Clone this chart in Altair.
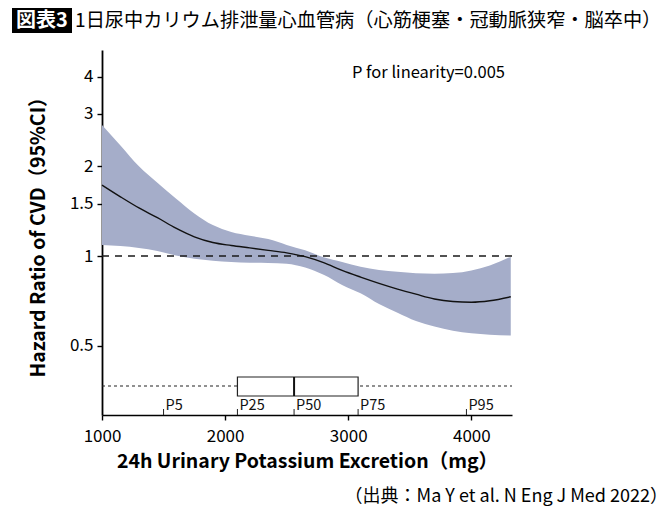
import altair as alt
import pandas as pd

# 24h urinary potassium (mg) and the spline hazard ratio with its 95% CI
potassium = [1000, 1150, 1300, 1450, 1600, 1750, 1900, 2050, 2200, 2350, 2500,
             2650, 2800, 2950, 3100, 3250, 3400, 3550, 3700, 3850, 4000, 4150, 4320]
hr_mid = [1.73, 1.58, 1.45, 1.345, 1.24, 1.16, 1.11, 1.085, 1.065, 1.045, 1.025,
          0.995, 0.95, 0.895, 0.85, 0.81, 0.775, 0.745, 0.718, 0.704, 0.700, 0.708, 0.73]
hr_low = [1.09, 1.08, 1.065, 1.04, 1.005, 0.98, 0.965, 0.955, 0.95, 0.948, 0.942,
          0.915, 0.865, 0.80, 0.75, 0.69, 0.645, 0.605, 0.58, 0.562, 0.551, 0.545, 0.541]
hr_high = [2.75, 2.35, 2.0, 1.76, 1.56, 1.39, 1.27, 1.205, 1.17, 1.14, 1.09,
           1.045, 0.99, 0.955, 0.92, 0.898, 0.885, 0.875, 0.873, 0.877, 0.895, 0.93, 0.995]

# distribution of potassium excretion (percentiles)
pct_labels = ["P5", "P25", "P50", "P75", "P95"]
pct_values = [1500, 2100, 2560, 3080, 3960]

x_ticks = [1000, 2000, 3000, 4000]
y_ticks = [0.5, 1, 1.5, 2, 3, 4]
x_domain = [1000, 4330]
y_domain = [0.293, 4.91]

FONT = "Noto Sans CJK JP, sans-serif"
BAND = "#a5adc9"

curve = pd.DataFrame({"k": potassium, "hr": hr_mid, "lo": hr_low, "hi": hr_high})
pct = pd.DataFrame({"label": pct_labels, "v": pct_values})
box = pd.DataFrame({"q1": [pct_values[1]], "med": [pct_values[2]], "q3": [pct_values[3]]})
span = pd.DataFrame({"a": [x_domain[0]], "b": [x_domain[1]], "one": [1.0]})

x_scale = alt.Scale(domain=x_domain, nice=False, zero=False)
y_scale = alt.Scale(type="log", domain=y_domain, nice=False)

x_axis = alt.Axis(
    values=x_ticks, format="d", grid=False, labelFlush=False,
    domainColor="black", domainWidth=1.6, tickColor="black", tickWidth=1.4, tickSize=5,
    labelFont=FONT, labelFontSize=17, labelColor="black", labelPadding=8,
    title="24h Urinary Potassium Excretion（mg）", titleFont=FONT, titleFontSize=19.5,
    titleFontWeight="bold", titleColor="black", titlePadding=8,
)
y_axis = alt.Axis(
    values=y_ticks, format="~g", grid=False, labelFlush=False,
    domainColor="black", domainWidth=1.8, tickColor="black", tickWidth=1.4, tickSize=5,
    labelFont=FONT, labelFontSize=17, labelColor="black", labelPadding=4,
    title="Hazard Ratio of CVD（95%CI）", titleFont=FONT, titleFontSize=19.5,
    titleFontWeight="bold", titleColor="black",
    titleX=-64, titleY=182, titleAngle=270, titleBaseline="middle", titleAlign="center",
)

band = alt.Chart(curve).mark_area(color=BAND, opacity=1, interpolate="monotone").encode(
    x=alt.X("k:Q", scale=x_scale, axis=x_axis),
    y=alt.Y("lo:Q", scale=y_scale, axis=y_axis),
    y2="hi:Q",
)
line = alt.Chart(curve).mark_line(color="#111111", strokeWidth=1.4, interpolate="monotone").encode(
    x=alt.X("k:Q", scale=x_scale),
    y=alt.Y("hr:Q", scale=y_scale),
)
ref = alt.Chart(span).mark_rule(color="#1a1a1a", strokeWidth=1.5, strokeDash=[7, 6]).encode(
    x=alt.X("a:Q", scale=x_scale), x2="b:Q",
    y=alt.Y("one:Q", scale=y_scale),
)

# box plot strip along the bottom of the panel
whisker = alt.Chart(span).mark_rule(color="#222222", strokeWidth=1.2, strokeDash=[3, 3]).encode(
    x=alt.X("a:Q", scale=x_scale), x2="b:Q", y=alt.value(336),
)
box_rect = alt.Chart(box).mark_rect(fill="white", stroke="#222222", strokeWidth=1.2).encode(
    x=alt.X("q1:Q", scale=x_scale), x2="q3:Q", y=alt.value(327), y2=alt.value(346),
)
median = alt.Chart(box).mark_rule(color="#111111", strokeWidth=2).encode(
    x=alt.X("med:Q", scale=x_scale), y=alt.value(327), y2=alt.value(346),
)
pct_ticks = alt.Chart(pct).mark_rule(color="#222222", strokeWidth=1).encode(
    x=alt.X("v:Q", scale=x_scale), y=alt.value(359), y2=alt.value(365),
)
pct_text = alt.Chart(pct).mark_text(
    align="left", baseline="middle", dx=2, font=FONT, fontSize=14.5, color="#111111"
).encode(x=alt.X("v:Q", scale=x_scale), y=alt.value(356), text="label:N")

# annotations
note = alt.Chart(span).mark_text(
    align="right", baseline="middle", font=FONT, fontSize=16.5, color="black"
).encode(x=alt.value(403), y=alt.value(23), text=alt.value("P for linearity=0.005"))
source = alt.Chart(span).mark_text(
    align="right", baseline="middle", font=FONT, fontSize=18, color="black"
).encode(x=alt.value(566), y=alt.value(447), text=alt.value("（出典：Ma Y et al. N Eng J Med 2022）"))

# heading: black tag + title text
tag_box = alt.Chart(span).mark_rect(color="black").encode(
    x=alt.value(-90), x2=alt.value(-30), y=alt.value(-42), y2=alt.value(-17),
)
tag_text = alt.Chart(span).mark_text(
    align="center", baseline="middle", font=FONT, fontSize=20, fontWeight="bold", color="white"
).encode(x=alt.value(-60), y=alt.value(-29), text=alt.value("図表3"))
heading = alt.Chart(span).mark_text(
    align="left", baseline="middle", font=FONT, fontSize=19.2, color="black"
).encode(x=alt.value(-27), y=alt.value(-29),
         text=alt.value("1日尿中カリウム排泄量心血管病（心筋梗塞・冠動脈狭窄・脳卒中）"))

chart = alt.layer(
    band, ref, line, whisker, box_rect, median, pct_ticks, pct_text,
    note, source, tag_box, tag_text, heading,
).properties(
    width=410, height=365,
    autosize=alt.AutoSizeParams(type="none"),
    padding={"left": 102, "top": 50, "right": 158, "bottom": 105},
    background="white",
).configure_view(stroke=None)

chart.save("out.html", embed_options={"renderer": "svg", "actions": False})
